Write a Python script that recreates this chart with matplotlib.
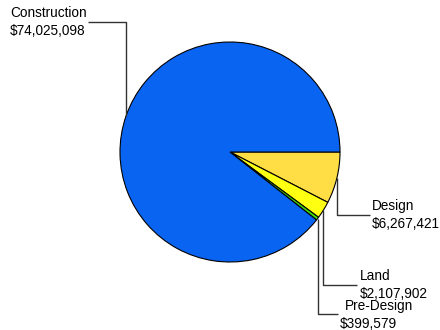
import numpy as np
import matplotlib
matplotlib.use("Agg")
import matplotlib.pyplot as plt

plt.rcParams['font.family'] = ['Liberation Sans', 'DejaVu Sans']

# data (drawing order: clockwise from 3 o'clock)
names = ['Design', 'Land', 'Pre-Design', 'Construction']
amounts = [6267421, 2107902, 399579, 74025098]
colors = ['#FFDD44', '#FFFF11', '#44DD00', '#0A64F2']

# label layout in pixel space (y measured from top): text x, leader y, knee x
label_x = [372, 360, 340, 10]
label_y = [215, 285, 314, 22]
knee_end = [370, 357, 338, 88]

W, H = 440, 330
fig = plt.figure(figsize=(W / 100, H / 100), dpi=100)
ax = fig.add_axes([0, 0, 1, 1])

cx, cy, r = 230, H - 152, 110
wedges, _ = ax.pie(amounts, colors=colors, startangle=0, counterclock=False,
                   center=(cx, cy), radius=r,
                   wedgeprops=dict(edgecolor='black', linewidth=0.8))
ax.set_xlim(0, W)
ax.set_ylim(0, H)
ax.set_aspect('equal')
ax.axis('off')

def money(v):
    return '${:,}'.format(v)

fs = 9.8
for i, w in enumerate(wedges):
    mid = np.deg2rad((w.theta1 + w.theta2) / 2)
    ex = cx + r * np.cos(mid)
    ey = cy + r * np.sin(mid)
    ly = H - label_y[i]
    ax.plot([ex, ex, knee_end[i]], [ey, ly, ly], color='#333333', lw=1,
            solid_capstyle='butt')
    if names[i] == 'Pre-Design':
        ax.text(label_x[i] + 5, ly + 1, names[i], ha='left', va='bottom', fontsize=fs)
        ax.text(label_x[i], ly - 3, money(amounts[i]), ha='left', va='top', fontsize=fs)
    else:
        ax.text(label_x[i], ly, names[i] + '\n' + money(amounts[i]),
                ha='left', va='center', fontsize=fs, linespacing=1.3)

fig.savefig('out.png', dpi=100)
